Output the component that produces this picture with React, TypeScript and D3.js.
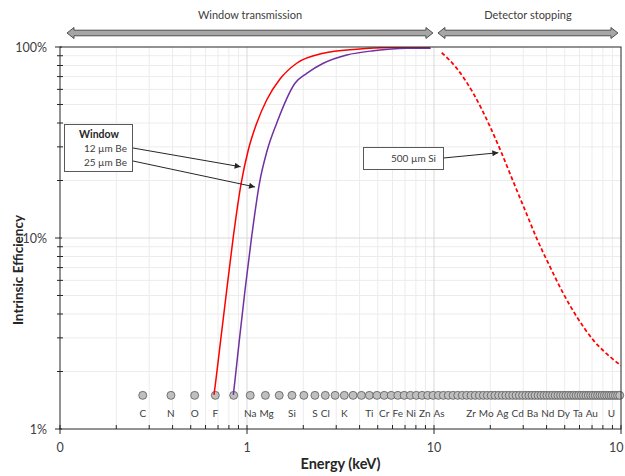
import React, { useEffect, useRef } from "react";
import * as d3 from "d3";

const W = 625;
const H = 476;
const FONT = "Lato, Carlito, 'Open Sans', sans-serif";

// axis ticks (labels as printed on the original chart)
const energyTicks = [0.1, 1, 10, 100];
const energyTickLabels = ["0", "1", "10", "10"];
const effTicks = [0.01, 0.1, 1];
const effTickLabels = ["1%", "10%", "100%"];

// window transmission curves [keV, efficiency]
const be12 = [
  [0.666, 0.0151], [0.682, 0.0181], [0.723, 0.0292], [0.779, 0.0534],
  [0.845, 0.1016], [0.931, 0.194], [1.016, 0.289], [1.127, 0.399],
  [1.274, 0.528], [1.501, 0.68], [1.844, 0.822], [2.559, 0.927],
  [3.86, 0.973], [5.82, 0.994], [9.52, 0.997],
];
const be25 = [
  [0.845, 0.0151], [0.863, 0.0181], [0.91, 0.0292], [0.976, 0.0534],
  [1.059, 0.1016], [1.166, 0.194], [1.284, 0.289], [1.441, 0.399],
  [1.806, 0.646], [2.086, 0.728], [2.559, 0.822], [3.414, 0.908],
  [4.74, 0.956], [7.15, 0.984], [9.6, 0.985],
];
// detector stopping, 500 um Si
const si500 = [
  [11.0, 0.933], [13.22, 0.774], [16.23, 0.572], [19.93, 0.383],
  [23.0, 0.278], [26.55, 0.197], [31.3, 0.1334], [35.4, 0.0996],
  [41.7, 0.0708], [49.1, 0.0513], [58.0, 0.0387], [71.1, 0.0292],
  [87.3, 0.0239], [100, 0.0215],
];

// element K-alpha lines, C .. U
const elements = [
  "C", "N", "O", "F", "Ne", "Na", "Mg", "Al", "Si", "P", "S", "Cl", "Ar", "K", "Ca",
  "Sc", "Ti", "V", "Cr", "Mn", "Fe", "Co", "Ni", "Cu", "Zn", "Ga", "Ge", "As", "Se",
  "Br", "Kr", "Rb", "Sr", "Y", "Zr", "Nb", "Mo", "Tc", "Ru", "Rh", "Pd", "Ag", "Cd",
  "In", "Sn", "Sb", "Te", "I", "Xe", "Cs", "Ba", "La", "Ce", "Pr", "Nd", "Pm", "Sm",
  "Eu", "Gd", "Tb", "Dy", "Ho", "Er", "Tm", "Yb", "Lu", "Hf", "Ta", "W", "Re", "Os",
  "Ir", "Pt", "Au", "Hg", "Tl", "Pb", "Bi", "Po", "At", "Rn", "Fr", "Ra", "Ac", "Th",
  "Pa", "U",
];
const kAlpha = [
  0.277, 0.392, 0.525, 0.677, 0.849, 1.041, 1.254, 1.487, 1.74, 2.014, 2.308, 2.622,
  2.958, 3.314, 3.692, 4.091, 4.511, 4.952, 5.415, 5.899, 6.404, 6.93, 7.478, 8.048,
  8.639, 9.252, 9.886, 10.544, 11.222, 11.924, 12.649, 13.395, 14.165, 14.958, 15.775,
  16.615, 17.479, 18.367, 19.279, 20.216, 21.177, 22.163, 23.174, 24.21, 25.271,
  26.359, 27.472, 28.612, 29.779, 30.973, 32.194, 33.442, 34.72, 36.026, 37.361,
  38.725, 40.118, 41.542, 42.996, 44.482, 45.998, 47.547, 49.128, 50.742, 52.389,
  54.07, 55.79, 57.532, 59.318, 61.141, 63.0, 64.896, 66.832, 68.804, 70.819, 72.872,
  74.969, 77.108, 79.29, 81.52, 83.78, 86.1, 88.47, 90.884, 93.35, 95.868, 98.439,
];
const labelled = [
  "C", "N", "O", "F", "Na", "Mg", "Si", "S", "Cl", "K", "Ti", "Cr", "Fe", "Ni", "Zn",
  "As", "Zr", "Mo", "Ag", "Cd", "Ba", "Nd", "Dy", "Ta", "Au", "U",
];
const dotLevel = 0.015;

// regions shown by the block arrows on top
const regions = [
  { label: "Window transmission", from: 0.109, to: 9.87 },
  { label: "Detector stopping", from: 10.5, to: 96.3 },
];

// callout arrow tips [keV, efficiency]
const tip12 = [0.925, 0.236];
const tip25 = [1.104, 0.185];
const tipSi = [22.08, 0.2796];

export default function App() {
  const ref = useRef<SVGSVGElement>(null);

  useEffect(() => {
    const svg = d3.select(ref.current);
    svg.selectAll("*").remove();

    const x = d3.scaleLog().domain([0.1, 100]).range([60, 621]);
    const y = d3.scaleLog().domain([0.01, 1]).range([429, 47]);
    const [x0, x1] = x.range();
    const [y0, y1] = y.range();

    const minorX = [0.1, 1, 10].flatMap((d) => d3.range(2, 10).map((k) => d * k));
    const minorY = [0.01, 0.1].flatMap((d) => d3.range(2, 10).map((k) => d * k));

    svg.append("rect").attr("width", W).attr("height", H).attr("fill", "#fff");

    // defs
    const defs = svg.append("defs");
    defs
      .append("marker")
      .attr("id", "head")
      .attr("viewBox", "0 0 10 10")
      .attr("refX", 10)
      .attr("refY", 5)
      .attr("markerWidth", 7)
      .attr("markerHeight", 6)
      .attr("markerUnits", "userSpaceOnUse")
      .attr("orient", "auto")
      .append("path")
      .attr("d", "M0,0L10,5L0,10Z")
      .attr("fill", "#262626");
    defs
      .append("clipPath")
      .attr("id", "plot")
      .append("rect")
      .attr("x", x0)
      .attr("y", y1)
      .attr("width", x1 - x0)
      .attr("height", y0 - y1);

    // grid
    const grid = svg.append("g");
    grid
      .selectAll(".vx")
      .data(minorX)
      .join("line")
      .attr("x1", (d) => x(d))
      .attr("x2", (d) => x(d))
      .attr("y1", y1)
      .attr("y2", y0)
      .attr("stroke", "#ececec");
    grid
      .selectAll(".hy")
      .data(minorY)
      .join("line")
      .attr("x1", x0)
      .attr("x2", x1)
      .attr("y1", (d) => y(d))
      .attr("y2", (d) => y(d))
      .attr("stroke", "#ececec");
    grid
      .selectAll(".vmaj")
      .data([1, 10])
      .join("line")
      .attr("x1", (d) => x(d))
      .attr("x2", (d) => x(d))
      .attr("y1", y1)
      .attr("y2", y0)
      .attr("stroke", "#d9d9d9");
    grid
      .append("line")
      .attr("x1", x0)
      .attr("x2", x1)
      .attr("y1", y(0.1))
      .attr("y2", y(0.1))
      .attr("stroke", "#d9d9d9");

    // element markers
    const dots = svg.append("g");
    dots
      .selectAll("circle")
      .data(kAlpha)
      .join("circle")
      .attr("cx", (d) => x(d))
      .attr("cy", y(dotLevel))
      .attr("r", 4)
      .attr("fill", "#bfbfbf")
      .attr("stroke", "#595959")
      .attr("stroke-width", 0.8);

    const labG = svg.append("g");
    let prevRight = -Infinity;
    labelled.forEach((sym) => {
      const e = kAlpha[elements.indexOf(sym)];
      const t = labG
        .append("text")
        .text(sym)
        .attr("y", y(dotLevel) + 22)
        .attr("text-anchor", "middle")
        .attr("font-family", FONT)
        .attr("font-size", 10)
        .attr("fill", "#404040");
      const w = (t.node() as SVGTextElement).getComputedTextLength();
      let cx = Math.max(x(e), prevRight + 3 + w / 2);
      cx = Math.min(cx, x1 - 6 - w / 2);
      t.attr("x", cx);
      prevRight = cx + w / 2;
    });

    // curves
    const line = d3
      .line<number[]>()
      .x((d) => x(d[0]))
      .y((d) => y(d[1]))
      .curve(d3.curveMonotoneX);
    const curves = svg.append("g").attr("clip-path", "url(#plot)");
    curves
      .append("path")
      .attr("d", line(be12))
      .attr("fill", "none")
      .attr("stroke", "#ff0000")
      .attr("stroke-width", 1.5);
    curves
      .append("path")
      .attr("d", line(be25))
      .attr("fill", "none")
      .attr("stroke", "#7030a0")
      .attr("stroke-width", 1.5);
    curves
      .append("path")
      .attr("d", line(si500))
      .attr("fill", "none")
      .attr("stroke", "#ff0000")
      .attr("stroke-width", 1.75)
      .attr("stroke-dasharray", "4 2.5");

    // frame + ticks
    svg
      .append("rect")
      .attr("x", x0)
      .attr("y", y1)
      .attr("width", x1 - x0)
      .attr("height", y0 - y1)
      .attr("fill", "none")
      .attr("stroke", "#262626");

    const ax = svg.append("g").attr("stroke", "#262626");
    ax.selectAll(".mx")
      .data(minorX)
      .join("line")
      .attr("x1", (d) => x(d))
      .attr("x2", (d) => x(d))
      .attr("y1", y0 - 4)
      .attr("y2", y0);
    ax.selectAll(".Mx")
      .data(energyTicks)
      .join("line")
      .attr("x1", (d) => x(d))
      .attr("x2", (d) => x(d))
      .attr("y1", y0 - 4)
      .attr("y2", y0 + 5);
    ax.selectAll(".my")
      .data(minorY)
      .join("line")
      .attr("x1", x0 - 3)
      .attr("x2", x0 + 3)
      .attr("y1", (d) => y(d))
      .attr("y2", (d) => y(d));
    ax.selectAll(".My")
      .data(effTicks)
      .join("line")
      .attr("x1", x0 - 5)
      .attr("x2", x0 + 2)
      .attr("y1", (d) => y(d))
      .attr("y2", (d) => y(d));

    const txt = (g: any) => g.attr("font-family", FONT).attr("fill", "#404040");

    const xLab = svg
      .append("g")
      .selectAll("text")
      .data(energyTicks)
      .join("text")
      .call(txt)
      .attr("y", y0 + 23)
      .attr("text-anchor", "middle")
      .attr("font-size", 12.5)
      .text((_, i) => energyTickLabels[i]);
    xLab.each(function (d) {
      const w = (this as SVGTextElement).getComputedTextLength();
      d3.select(this).attr("x", Math.min(x(d), W - 1.5 - w / 2));
    });
    svg
      .append("g")
      .selectAll("text")
      .data(effTicks)
      .join("text")
      .call(txt)
      .attr("x", x0 - 13)
      .attr("y", (d) => y(d) + 4.5)
      .attr("text-anchor", "end")
      .attr("font-size", 12.5)
      .text((_, i) => effTickLabels[i]);

    // axis titles
    svg
      .append("text")
      .attr("x", (x0 + x1) / 2)
      .attr("y", 469)
      .attr("text-anchor", "middle")
      .attr("font-family", FONT)
      .attr("font-weight", "bold")
      .attr("font-size", 14.5)
      .attr("fill", "#262626")
      .text("Energy (keV)");
    svg
      .append("text")
      .attr("transform", "translate(23,270) rotate(-90)")
      .attr("text-anchor", "middle")
      .attr("font-family", FONT)
      .attr("font-weight", "bold")
      .attr("font-size", 13.5)
      .attr("fill", "#262626")
      .text("Intrinsic Efficiency");

    // region arrows on top
    const cy = 33;
    const hh = 5.5;
    const sh = 2.8;
    const hl = 7;
    regions.forEach((r) => {
      const a = x(r.from);
      const b = x(r.to);
      const pts = [
        [a, cy], [a + hl, cy - hh], [a + hl, cy - sh], [b - hl, cy - sh], [b - hl, cy - hh],
        [b, cy], [b - hl, cy + hh], [b - hl, cy + sh], [a + hl, cy + sh], [a + hl, cy + hh],
      ];
      svg
        .append("path")
        .attr("d", "M" + pts.map((p) => p.join(",")).join("L") + "Z")
        .attr("fill", "#a6a6a6")
        .attr("stroke", "#404040")
        .attr("stroke-width", 0.9);
      svg
        .append("text")
        .attr("x", (a + b) / 2)
        .attr("y", 19)
        .attr("text-anchor", "middle")
        .attr("font-family", FONT)
        .attr("font-size", 11)
        .attr("fill", "#404040")
        .text(r.label);
    });

    // callouts
    const box = (bx: number, by: number, bw: number, bh: number) =>
      svg
        .append("rect")
        .attr("x", bx)
        .attr("y", by)
        .attr("width", bw)
        .attr("height", bh)
        .attr("fill", "#fff")
        .attr("stroke", "#595959")
        .attr("stroke-width", 1);
    const arrow = (sx: number, sy: number, t: number[]) =>
      svg
        .append("line")
        .attr("x1", sx)
        .attr("y1", sy)
        .attr("x2", x(t[0]))
        .attr("y2", y(t[1]))
        .attr("stroke", "#262626")
        .attr("stroke-width", 1)
        .attr("marker-end", "url(#head)");

    box(64.5, 124.5, 68, 47);
    svg
      .append("text")
      .attr("x", 99)
      .attr("y", 138)
      .attr("text-anchor", "middle")
      .attr("font-family", FONT)
      .attr("font-weight", "bold")
      .attr("font-size", 10.5)
      .attr("fill", "#262626")
      .text("Window");
    [["12 \u00b5m Be", 152], ["25 \u00b5m Be", 166]].forEach(([s, ty]) =>
      svg
        .append("text")
        .attr("x", 127)
        .attr("y", ty as number)
        .attr("text-anchor", "end")
        .attr("font-family", FONT)
        .attr("font-size", 10)
        .attr("fill", "#404040")
        .text(s as string)
    );
    arrow(133, 148, tip12);
    arrow(133, 161, tip25);

    box(363.5, 147.5, 80, 22);
    svg
      .append("text")
      .attr("x", 436)
      .attr("y", 162)
      .attr("text-anchor", "end")
      .attr("font-family", FONT)
      .attr("font-size", 10)
      .attr("fill", "#404040")
      .text("500 \u00b5m Si");
    arrow(443.5, 158, tipSi);
  }, []);

  return (
    <svg
      ref={ref}
      width={W}
      height={H}
      style={{ position: "absolute", left: 0, top: 0, display: "block" }}
    />
  );
}
